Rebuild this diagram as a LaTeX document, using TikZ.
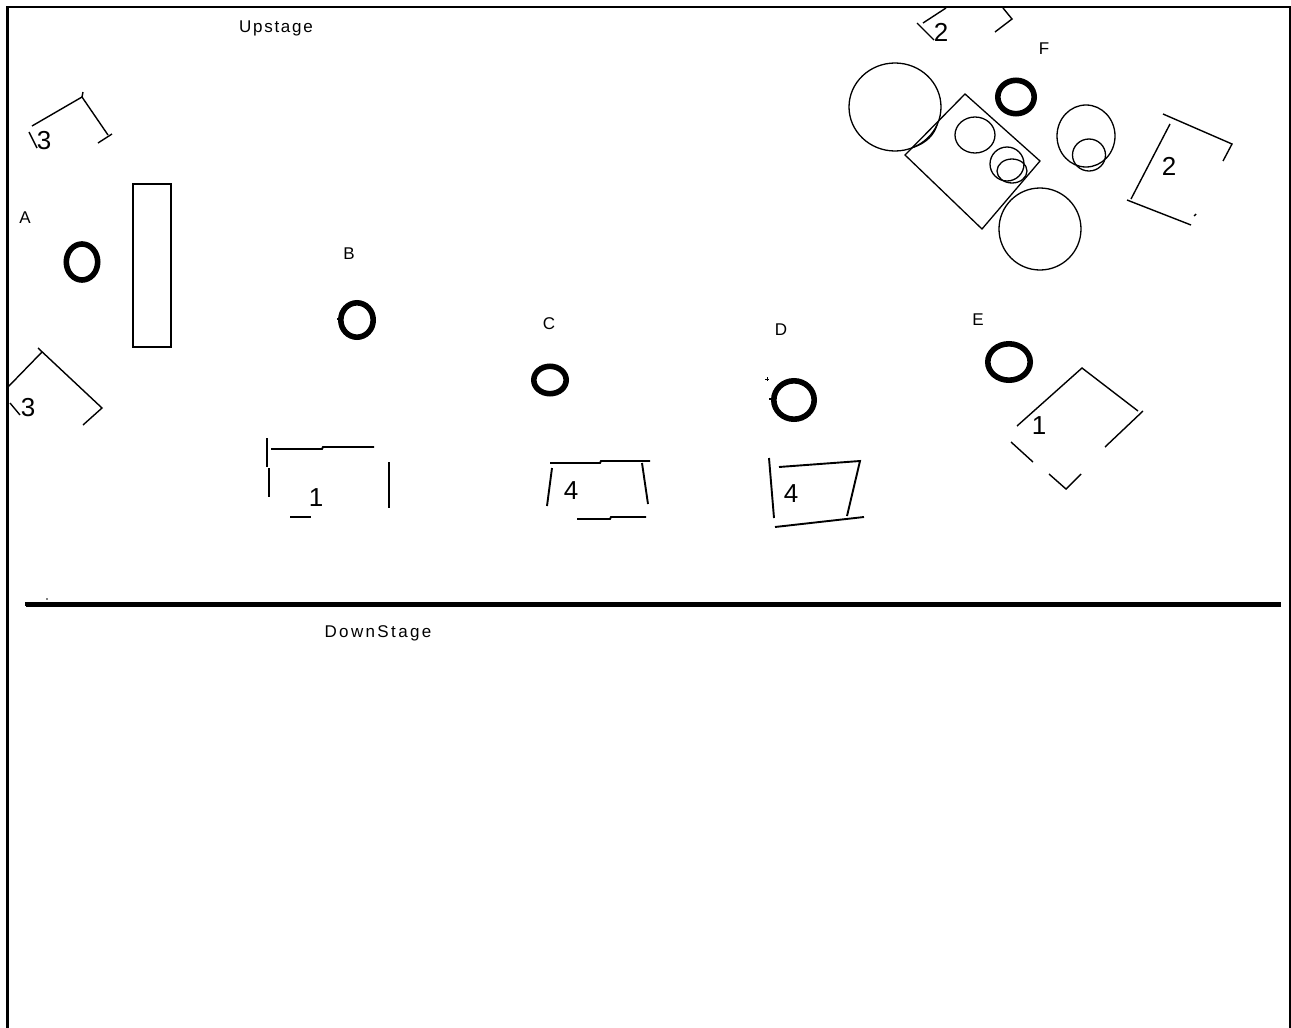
\documentclass[tikz,border=0pt]{standalone}
\usepackage{fontspec}
\setmainfont{Liberation Sans}
\usepackage{tikz}
\usetikzlibrary{positioning}

\begin{document}
\begin{tikzpicture}[
    x=1pt, y=-1pt,
    every node/.style={inner sep=0pt},
    label/.style={font=\fontsize{17}{17}\selectfont\addfontfeatures{LetterSpace=10}},
    number/.style={font=\fontsize{26}{26}\selectfont},
    wall/.style={line width=1.4pt},
    heavywall/.style={line width=1.9pt},
    ring/.style={line width=5.6pt},
    prop/.style={line width=1.3pt},
    edge/.style={line width=2.5pt}
]
\useasboundingbox (0,0) rectangle (1291,1028);

% stage edges
\draw [edge] (7.5,1030) -- (7.5,7) -- (1290,7) -- (1290,1030);
\draw [line width=4.6pt] (26,604.5) -- (1281,604.5);
\fill (25,602) rectangle (28,606);
\fill (47,599) circle (0.8);

% labels
\node (upstage)   [label] at (276,28)  {Upstage};
\node (downstage) [label, font=\fontsize{17}{17}\selectfont\addfontfeatures{LetterSpace=14}] at (378,633) {DownStage};
\node (posA) [label] at (25,218)  {A};
\node (posB) [label] at (349,254) {B};
\node (posC) [label] at (549,324) {C};
\node (posD) [label] at (781,330) {D};
\node (posE) [label] at (978,320) {E};
\node (posF) [label] at (1044,49) {F};

% rings
\draw [ring] (82,262) ellipse (15.7 and 18);
\draw [ring] (357,320) ellipse (16.2 and 17.2);
\draw [ring] (550,380) ellipse (16.2 and 13.7);
\draw [ring] (794,400) ellipse (20.2 and 19.2);
\draw [ring] (1009,362) ellipse (21.2 and 18.2);
\draw [ring] (1016,97) ellipse (18.2 and 16.7);
\draw [line width=1.5pt] (337,319) -- (340,319);
\draw [line width=1.5pt] (769,399) -- (772,399);
\draw [line width=1pt] (765,379) -- (769,379) (767,377) -- (767,381);

% back platform
\draw [line width=1.7pt] (133,184) rectangle (171,347);

% table and chairs, top right
\draw [prop] (965,94) -- (1040,161) -- (982,229) -- (905,155) -- cycle;
\draw [prop] (895,107) ellipse (46 and 44);
\draw [prop] (975,135) ellipse (20 and 18);
\draw [prop] (1007,164) ellipse (17 and 17);
\draw [prop] (1012,171) ellipse (15 and 12);
\draw [prop] (1086,136) ellipse (29 and 31);
\draw [prop] (1089,155) ellipse (16.5 and 16);
\draw [prop] (1040,229) ellipse (41 and 41);
\draw [prop] (914,147) .. controls (926,143) and (934,135) .. (937,125);

% 3, top left
\node (numThreeA) [number] at (44,141) {3};
\draw [wall] (32,126) -- (82,97) -- (108,135);
\draw [wall] (82,97) -- (83,92);
\draw [wall] (112,134) -- (98,143);
\draw [wall] (29,132) -- (37,148);

% 3, bottom left
\node (numThreeB) [number] at (28,408) {3};
\draw [wall] (8,387) -- (42,352);
\draw [wall] (38,348) -- (102,408) -- (83,425);
\draw [wall] (10,403) -- (20,415);

% 1, left
\node (numOneA) [number] at (316,498) {1};
\draw [heavywall] (267,438) -- (267,467);
\draw [heavywall] (269,468) -- (269,497);
\draw [heavywall] (271,449) -- (322,449) -- (323,447) -- (374,447);
\draw [heavywall] (389,462) -- (389,508);
\draw [heavywall] (290,517) -- (311,517);

% 4, middle
\node (numFourA) [number] at (571,491) {4};
\draw [heavywall] (550,463) -- (600,463) -- (601,461) -- (650,461);
\draw [heavywall] (552,468) -- (547,506);
\draw [heavywall] (642,463) -- (648,504);
\draw [heavywall] (577,519) -- (610,519) -- (611,517) -- (646,517);

% 4, right
\node (numFourB) [number] at (791,494) {4};
\draw [heavywall] (769,458) -- (774,518);
\draw [heavywall] (779,467) -- (860,461) -- (847,516);
\draw [heavywall] (775,527) -- (864,517);

% 1, right
\node (numOneB) [number] at (1039,426) {1};
\draw [wall] (1017,426) -- (1082,368) -- (1138,411);
\draw [wall] (1143,411) -- (1105,447);
\draw [wall] (1011,442) -- (1033,462);
\draw [wall] (1049,474) -- (1066,489) -- (1081,474);

% 2, top
\node (numTwoA) [number] at (941,32) {2};
\draw [wall] (923,23) -- (946,8);
\draw [wall] (917,23) -- (934,40);
\draw [wall] (1003,8) -- (1012,19) -- (995,32);

% 2, right
\node (numTwoB) [number] at (1169,166) {2};
\draw [wall] (1163,114) -- (1232,144) -- (1223,161);
\draw [wall] (1170,124) -- (1131,199);
\draw [wall] (1127,200) -- (1191,225);
\draw [wall] (1196,214) -- (1194,216);

\end{tikzpicture}
\end{document}
